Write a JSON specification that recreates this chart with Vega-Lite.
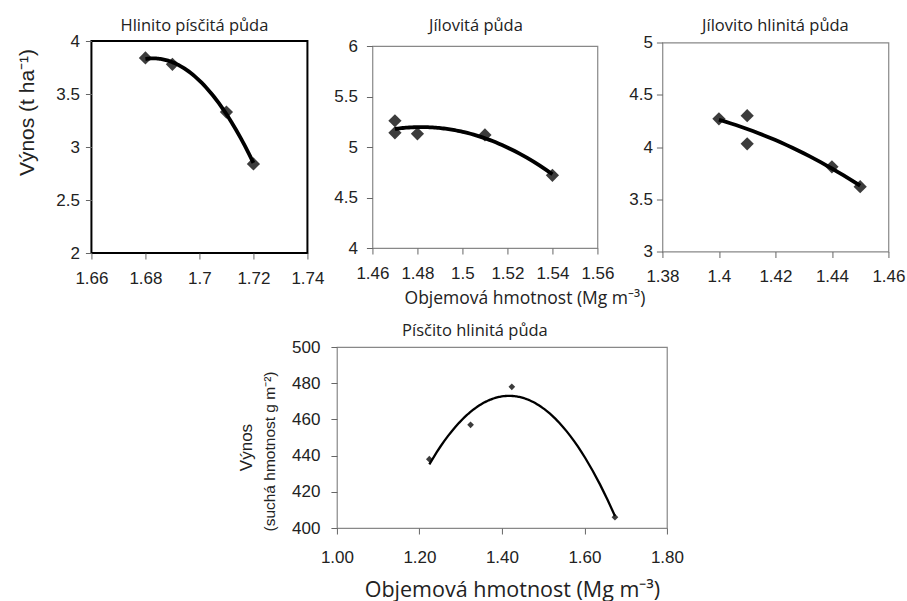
{
  "$schema": "https://vega.github.io/schema/vega-lite/v6.json",
  "background": "white",
  "padding": {"left": 15, "top": 16, "right": 0, "bottom": 0},
  "datasets": {
    "p1": [
      {"bd": 1.68, "yield": 3.84},
      {"bd": 1.69, "yield": 3.78},
      {"bd": 1.71, "yield": 3.33},
      {"bd": 1.72, "yield": 2.84}
    ],
    "p2": [
      {"bd": 1.47, "yield": 5.26},
      {"bd": 1.47, "yield": 5.14},
      {"bd": 1.48, "yield": 5.13},
      {"bd": 1.51, "yield": 5.12},
      {"bd": 1.54, "yield": 4.72}
    ],
    "p3": [
      {"bd": 1.40, "yield": 4.27},
      {"bd": 1.41, "yield": 4.30},
      {"bd": 1.41, "yield": 4.03},
      {"bd": 1.44, "yield": 3.81},
      {"bd": 1.45, "yield": 3.62}
    ],
    "p4": [
      {"bd": 1.224, "yield": 438},
      {"bd": 1.324, "yield": 457},
      {"bd": 1.424, "yield": 478},
      {"bd": 1.674, "yield": 406}
    ]
  },
  "vconcat": [
    {
      "hconcat": [
        {
          "width": 216,
          "height": 212,
          "title": {"text": "Hlinito písčitá půda", "frame": "group", "offset": -15, "baseline": "alphabetic", "dx": -5},
          "data": {"name": "p1"},
          "view": {"stroke": "black", "strokeWidth": 2},
          "encoding": {
            "x": {"field": "bd", "type": "quantitative", "scale": {"domain": [1.66, 1.74], "nice": false, "zero": false},
              "axis": {"values": [1.66, 1.68, 1.7, 1.72, 1.74], "format": "~g", "title": null}},
            "y": {"field": "yield", "type": "quantitative", "scale": {"domain": [2, 4], "nice": false, "zero": false},
              "axis": {"values": [2, 2.5, 3, 3.5, 4], "format": "~g", "labelPadding": 6, "title": "Výnos  (t ha⁻¹)", "titleFontSize": 21, "titleX": -58, "titleY": 71, "titleAlign": "center", "titleBaseline": "alphabetic", "titleAngle": -90}}
          },
          "layer": [
            {"mark": {"type": "point", "shape": "diamond", "filled": true, "size": 175, "color": "#3c3c3c", "opacity": 1}},
            {"transform": [{"regression": "yield", "on": "bd", "method": "poly", "order": 2}],
             "mark": {"type": "line", "color": "black", "strokeWidth": 3.8}}
          ]
        },
        {
          "width": 225,
          "height": 202,
          "title": {"text": "Jílovitá půda", "frame": "group", "offset": -10.5, "baseline": "alphabetic", "dx": -9},
          "data": {"name": "p2"},
          "encoding": {
            "x": {"field": "bd", "type": "quantitative", "scale": {"domain": [1.46, 1.56], "nice": false, "zero": false},
              "axis": {"values": [1.46, 1.48, 1.5, 1.52, 1.54, 1.56], "format": "~g", "title": "Objemová hmotnost (Mg m⁻³)", "titleFont": "Open Sans", "titleFontSize": 17.5, "titleX": 152, "titleY": 55, "titleAlign": "center", "titleBaseline": "alphabetic"}},
            "y": {"field": "yield", "type": "quantitative", "scale": {"domain": [4, 6], "nice": false, "zero": false},
              "axis": {"values": [4, 4.5, 5, 5.5, 6], "format": "~g", "labelPadding": 9, "title": null}}
          },
          "layer": [
            {"mark": {"type": "point", "shape": "diamond", "filled": true, "size": 175, "color": "#3c3c3c", "opacity": 1}},
            {"transform": [{"regression": "yield", "on": "bd", "method": "poly", "order": 2}],
             "mark": {"type": "line", "color": "black", "strokeWidth": 3.8}}
          ]
        },
        {
          "width": 226,
          "height": 209,
          "title": {"text": "Jílovito hlinitá půda", "frame": "group", "offset": -14, "baseline": "alphabetic", "dx": 0},
          "data": {"name": "p3"},
          "encoding": {
            "x": {"field": "bd", "type": "quantitative", "scale": {"domain": [1.38, 1.46], "nice": false, "zero": false},
              "axis": {"values": [1.38, 1.4, 1.42, 1.44, 1.46], "format": "~g", "title": null}},
            "y": {"field": "yield", "type": "quantitative", "scale": {"domain": [3, 5], "nice": false, "zero": false},
              "axis": {"values": [3, 3.5, 4, 4.5, 5], "format": "~g", "labelPadding": 4, "title": null}}
          },
          "layer": [
            {"mark": {"type": "point", "shape": "diamond", "filled": true, "size": 175, "color": "#3c3c3c", "opacity": 1}},
            {"transform": [{"regression": "yield", "on": "bd", "method": "poly", "order": 2}],
             "mark": {"type": "line", "color": "black", "strokeWidth": 3.8}}
          ]
        }
      ],
      "spacing": 65,
      "bounds": "flush",
      "center": true
    },
    {
      "hconcat": [
        {
          "width": 6,
          "height": 10,
          "data": {"values": []},
          "mark": {"type": "point"},
          "encoding": {},
          "view": {"stroke": null, "fill": "white"}
        },
        {
          "width": 330,
          "height": 181,
          "title": {"text": "Písčito hlinitá půda", "frame": "group", "offset": -14.5, "baseline": "alphabetic", "dx": -27},
          "data": {"name": "p4"},
          "view": {"stroke": "#888", "strokeWidth": 1.2},
          "encoding": {
            "x": {"field": "bd", "type": "quantitative", "scale": {"domain": [1.0, 1.8], "nice": false, "zero": false},
              "axis": {"values": [1.0, 1.2, 1.4, 1.6, 1.8], "format": ".2f", "labelPadding": 15, "title": "Objemová hmotnost (Mg m⁻³)", "titleFont": "Open Sans", "titleFontSize": 21.5, "titleX": 175, "titleY": 68, "titleAlign": "center", "titleBaseline": "alphabetic"}}
          },
          "layer": [
            {"mark": {"type": "point", "shape": "diamond", "filled": true, "size": 45, "color": "#3c3c3c", "opacity": 1},
             "encoding": {"y": {"field": "yield", "type": "quantitative", "scale": {"domain": [400, 500], "nice": false, "zero": false},
               "axis": {"values": [400, 420, 440, 460, 480, 500], "format": "d", "labelPadding": 11, "title": "Výnos", "titleFontSize": 17, "titleX": -85, "titleY": 100, "titleAlign": "center", "titleBaseline": "alphabetic", "titleAngle": -90}}}},
            {"transform": [{"regression": "yield", "on": "bd", "method": "poly", "order": 2}],
             "mark": {"type": "line", "color": "black", "strokeWidth": 2.3},
             "encoding": {"y": {"field": "yield", "type": "quantitative",
               "axis": {"orient": "left", "labels": false, "ticks": false, "domain": false, "title": "(suchá hmotnost g m⁻²)", "titleFontSize": 15.5, "titleX": -62, "titleY": 104, "titleAlign": "center", "titleBaseline": "alphabetic", "titleAngle": -90}}}}
          ],
          "resolve": {"axis": {"y": "independent"}}
        }
      ],
      "spacing": -82
    }
  ],
  "spacing": 14,
  "center": true,
  "config": {
    "view": {"stroke": "#888", "strokeWidth": 1.2},
    "axis": {
      "grid": false,
      "domain": false,
      "ticks": true,
      "tickColor": "#666",
      "tickSize": 6,
      "tickWidth": 1,
      "labelOverlap": false,
      "labelFont": "Liberation Sans",
      "labelFontSize": 17,
      "labelColor": "#222",
      "titleFont": "Liberation Sans",
      "titleFontWeight": "normal",
      "titleColor": "#222"
    },
    "axisX": {"labelPadding": 11, "labelFlush": false},
    "axisY": {"labelPadding": 5},
    "title": {"font": "Open Sans", "fontSize": 16.5, "fontWeight": "normal", "color": "#222"}
  }
}
